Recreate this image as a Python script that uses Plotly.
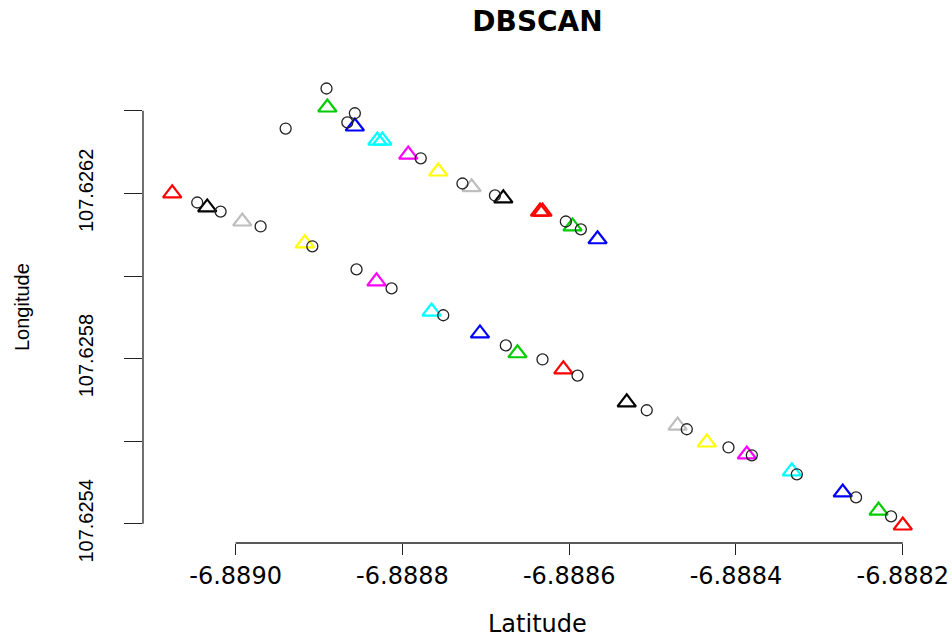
import plotly.graph_objects as go

# Noise points (cluster 0), plotted as open black circles
noise_lat = [-6.888891, -6.888940, -6.888857, -6.888866, -6.888778, -6.888728,
             -6.888689, -6.888604, -6.888586,
             -6.889046, -6.889018, -6.888970, -6.888908, -6.888855, -6.888813,
             -6.888751, -6.888676, -6.888632, -6.888590, -6.888507, -6.888459,
             -6.888409, -6.888381, -6.888327, -6.888256, -6.888214]
noise_lon = [107.626454, 107.626357, 107.626394, 107.626372, 107.626285, 107.626224,
             107.626195, 107.626132, 107.626113,
             107.626178, 107.626156, 107.626120, 107.626072, 107.626016, 107.625970,
             107.625905, 107.625832, 107.625798, 107.625759, 107.625675, 107.625629,
             107.625585, 107.625566, 107.625520, 107.625464, 107.625418]

# Cluster (seed) points, plotted as open triangles coloured by cluster id
core_lat = [-6.888890, -6.888857, -6.888830, -6.888824, -6.888793, -6.888757,
            -6.888717, -6.888679, -6.888635, -6.888632, -6.888596, -6.888566,
            -6.889076, -6.889034, -6.888992, -6.888917, -6.888831, -6.888765,
            -6.888707, -6.888662, -6.888607, -6.888531, -6.888470, -6.888435,
            -6.888387, -6.888333, -6.888272, -6.888229, -6.888200]
core_lon = [107.626408, 107.626362, 107.626328, 107.626328, 107.626294, 107.626253,
            107.626215, 107.626188, 107.626156, 107.626156, 107.626120, 107.626089,
            107.626200, 107.626166, 107.626132, 107.626079, 107.625987, 107.625914,
            107.625861, 107.625813, 107.625774, 107.625694, 107.625638, 107.625597,
            107.625568, 107.625527, 107.625476, 107.625432, 107.625396]
core_cluster = [18, 19, 20, 20, 21, 22, 23, 24, 25, 25, 26, 27,
                17, 16, 15, 14, 13, 12, 11, 10, 9, 8, 7, 6, 5, 4, 3, 2, 1]

# R default palette
palette = ["#000000", "#FF0000", "#00CD00", "#0000FF",
           "#00FFFF", "#FF00FF", "#FFFF00", "#BEBEBE"]

x_tickvals = [-6.8890, -6.8888, -6.8886, -6.8884, -6.8882]
x_ticktext = ["-6.8890", "-6.8888", "-6.8886", "-6.8884", "-6.8882"]
y_tickvals = [107.6254, 107.6256, 107.6258, 107.6260, 107.6262, 107.6264]
y_ticktext = ["107.6254", "", "107.6258", "", "107.6262", ""]

core_colors = [palette[c % len(palette)] for c in core_cluster]

all_x = noise_lat + core_lat
all_y = noise_lon + core_lon
xspan = max(all_x) - min(all_x)
yspan = max(all_y) - min(all_y)
xr = [min(all_x) - 0.04 * xspan, max(all_x) + 0.04 * xspan]
yr = [min(all_y) - 0.04 * yspan, max(all_y) + 0.04 * yspan]

W, H = 952, 637

fig = go.Figure()
fig.add_trace(go.Scatter(
    x=core_lat, y=core_lon, mode="markers",
    marker=dict(symbol="triangle-up-open", size=16, color=core_colors,
                line=dict(width=2.2)),
    showlegend=False, hoverinfo="x+y"))
fig.add_trace(go.Scatter(
    x=noise_lat, y=noise_lon, mode="markers",
    marker=dict(symbol="circle-open", size=11, color="#222222",
                line=dict(width=1.3)),
    showlegend=False, hoverinfo="x+y"))

# R-style axis lines spanning only the tick range
fig.add_shape(type="line", xref="x", yref="paper",
              x0=x_tickvals[0], x1=x_tickvals[-1], y0=0, y1=0,
              line=dict(color="#222222", width=1.3))
fig.add_shape(type="line", xref="paper", yref="y",
              x0=0, x1=0, y0=y_tickvals[0], y1=y_tickvals[-1],
              line=dict(color="#222222", width=1.3))

fig.update_layout(
    width=W, height=H,
    margin=dict(l=143, r=20, t=71, b=94, autoexpand=False),
    paper_bgcolor="white", plot_bgcolor="white",
    title=dict(text="<b>DBSCAN</b>", x=0.5, xref="paper", xanchor="center",
               y=1 - 21 / H, yref="container", yanchor="middle",
               font=dict(family="DejaVu Sans", size=28, color="black")),
    xaxis=dict(range=xr, showgrid=False, zeroline=False, showline=False,
               automargin=False,
               tickmode="array", tickvals=x_tickvals, ticktext=x_ticktext,
               ticks="outside", ticklen=11, tickwidth=1.3, tickcolor="#222222",
               tickfont=dict(family="DejaVu Sans", size=24, color="black"),
               ticklabelstandoff=0),
    yaxis=dict(range=yr, showgrid=False, zeroline=False, showline=False,
               automargin=False,
               tickmode="array", tickvals=y_tickvals, ticktext=y_ticktext,
               ticks="outside", ticklen=18, tickwidth=1.3, tickcolor="#222222",
               tickangle=-90,
               tickfont=dict(family="Liberation Sans", size=20, color="black"),
               ticklabelstandoff=23),
    annotations=[
        dict(text="Latitude", xref="paper", yref="paper", x=0.5, y=0,
             xanchor="center", yanchor="middle", yshift=-81, showarrow=False,
             font=dict(family="DejaVu Sans", size=24, color="black")),
        dict(text="Longitude", xref="paper", yref="paper", x=0, y=0.5,
             xanchor="center", yanchor="middle", xshift=-121, textangle=-90,
             showarrow=False,
             font=dict(family="Liberation Sans", size=20, color="black")),
    ],
)

# The page body has a default 8px margin; remove it so the figure fills the window.
fig.write_html("out.html", config={"displayModeBar": False},
               post_script="document.body.style.margin='0';")
